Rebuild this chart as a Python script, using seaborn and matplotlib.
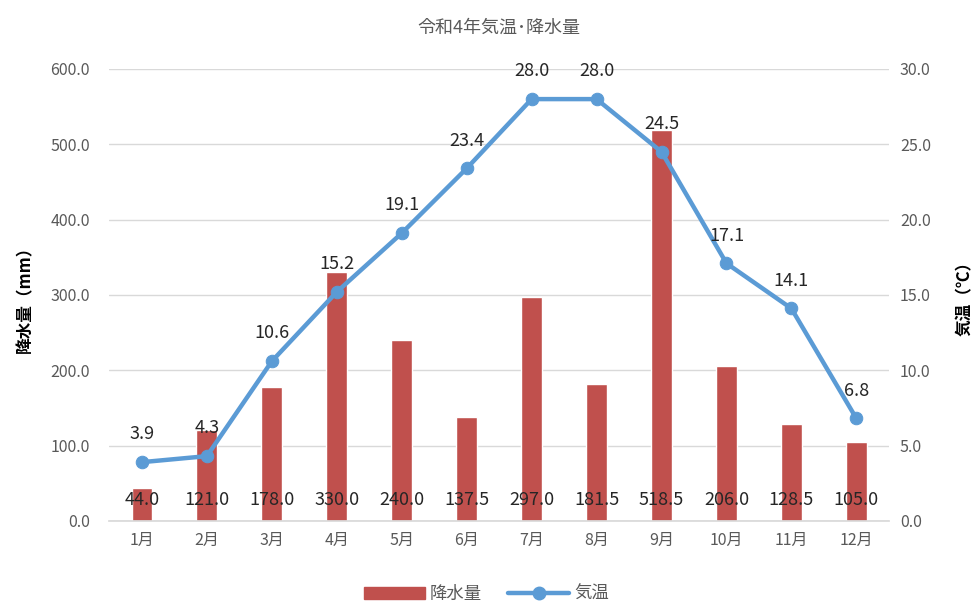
import matplotlib
matplotlib.use("Agg")
import matplotlib.pyplot as plt
import seaborn as sns
import pandas as pd
from matplotlib.ticker import FormatStrFormatter, MultipleLocator
from matplotlib.patches import Patch
from matplotlib.lines import Line2D

months = ["1月", "2月", "3月", "4月", "5月", "6月", "7月", "8月", "9月", "10月", "11月", "12月"]
rain = [44.0, 121.0, 178.0, 330.0, 240.0, 137.5, 297.0, 181.5, 518.5, 206.0, 128.5, 105.0]
temp = [3.9, 4.3, 10.6, 15.2, 19.1, 23.4, 28.0, 28.0, 24.5, 17.1, 14.1, 6.8]

sns.set_theme(style="white")
plt.rcParams['font.family'] = ['Noto Sans CJK JP', 'DejaVu Sans']

bar_color = "#C0504D"
line_color = "#5B9BD5"
gray = "#595959"

df = pd.DataFrame({"month": months, "rain": rain, "temp": temp})

fig = plt.figure(figsize=(9.73, 6.05), dpi=100)
ax = fig.add_axes([0.1125, 0.139, 0.801, 0.747])
ax2 = ax.twinx()

sns.barplot(data=df, x="month", y="rain", color=bar_color, width=0.32, ax=ax, saturation=1)
ax.set_ylim(0, 600)
ax.set_xlim(-0.5, 11.5)
ax.yaxis.set_major_locator(MultipleLocator(100))
ax.yaxis.set_major_formatter(FormatStrFormatter('%.1f'))
ax.grid(axis='y', color="#D9D9D9", linewidth=1)
ax.set_axisbelow(True)
for s in ["top", "right", "left"]:
    ax.spines[s].set_visible(False)
ax.spines["bottom"].set_color("#D9D9D9")
ax.tick_params(axis='both', colors=gray, labelsize=11.5, length=0)
ax.tick_params(axis='x', pad=8)
ax.tick_params(axis='y', pad=14)
ax.set_xlabel("")
ax.set_ylabel("降水量（mm）", fontsize=12, color="black", fontweight="bold", labelpad=12)

for i, v in enumerate(rain):
    ax.text(i, 28, f"{v:.1f}", ha='center', va='center', fontsize=13, color="#262626")

sns.lineplot(data=df, x="month", y="temp", color=line_color, linewidth=3.2,
             marker='o', markersize=9, markeredgecolor=line_color, ax=ax2, sort=False)
ax2.set_ylim(0, 30)
ax2.yaxis.set_major_locator(MultipleLocator(5))
ax2.yaxis.set_major_formatter(FormatStrFormatter('%.1f'))
for s in ["top", "right", "left", "bottom"]:
    ax2.spines[s].set_visible(False)
ax2.tick_params(axis='y', colors=gray, labelsize=11.5, length=0, pad=8)
ax2.set_ylabel("気温（℃）", fontsize=12, color="black", fontweight="bold", rotation=90, labelpad=18)
ax2.set_xlabel("")

for i, v in enumerate(temp):
    ax2.annotate(f"{v:.1f}", (i, v), xytext=(0, 20), textcoords='offset points',
                 ha='center', va='center', fontsize=13, color="#262626")

ax.set_title("令和4年気温･降水量", fontsize=13, color=gray, pad=26)

handles = [Patch(facecolor=bar_color, edgecolor=bar_color),
           Line2D([0], [0], color=line_color, linewidth=3.2, marker='o', markersize=9)]
fig.legend(handles, ["降水量", "気温"], loc='lower center', bbox_to_anchor=(0.5, -0.022),
           ncol=2, frameon=False, fontsize=12.5, labelcolor=gray, handlelength=3.5,
           columnspacing=1.5, handletextpad=0.3)

fig.savefig("out.png", dpi=100)
